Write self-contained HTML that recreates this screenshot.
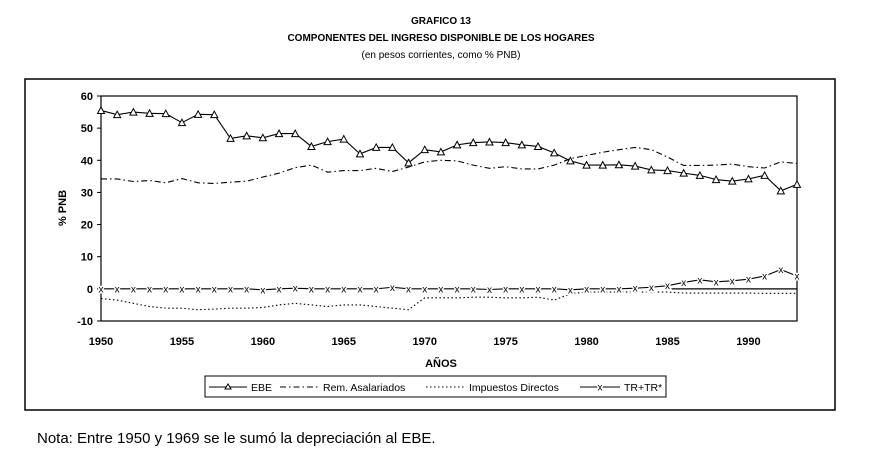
<!DOCTYPE html>
<html><head><meta charset="utf-8"><style>
body{margin:0;background:#fff;font-family:"Liberation Sans",Arial,sans-serif;}
svg text{font-family:"Liberation Sans",Arial,sans-serif;fill:#000;}
</style></head><body>
<svg id="c" width="883" height="456" xmlns="http://www.w3.org/2000/svg">
<text x="441" y="24" text-anchor="middle" font-size="10" font-weight="bold">GRAFICO  13</text>
<text x="441" y="41" text-anchor="middle" font-size="10" font-weight="bold">COMPONENTES DEL INGRESO DISPONIBLE DE LOS HOGARES</text>
<text x="441" y="58" text-anchor="middle" font-size="10">(en pesos corrientes, como % PNB)</text>
<rect x="25" y="79" width="810" height="331" fill="none" stroke="#000" stroke-width="1.5"/>
<rect x="101" y="96" width="696" height="225" fill="none" stroke="#000" stroke-width="1.2"/>
<g id="axes"></g>
<g id="series"></g>
<text x="441" y="367" text-anchor="middle" font-size="11" font-weight="bold">AÑOS</text>
<text transform="translate(66,208) rotate(-90)" text-anchor="middle" font-size="11" font-weight="bold">% PNB</text>
<g>
<rect x="205" y="376" width="461" height="21" fill="none" stroke="#000" stroke-width="1"/>
<g><line x1="209" y1="387" x2="247" y2="387" stroke="#000"/><path d="M225,389 l3,-5 l3,5z" fill="#fff" stroke="#000"/><text x="251" y="391" font-size="10.5">EBE</text></g>
<g><line x1="280" y1="387" x2="318" y2="387" stroke="#000" stroke-dasharray="6,3,1.5,3"/><text x="323" y="391" font-size="10.5">Rem. Asalariados</text></g>
<g><line x1="426" y1="387" x2="464" y2="387" stroke="#000" stroke-dasharray="1.5,2.5"/><text x="469" y="391" font-size="10.5">Impuestos Directos</text></g>
<g><line x1="580" y1="387" x2="620" y2="387" stroke="#000"/><text x="600" y="390.5" text-anchor="middle" font-size="10" style="paint-order:stroke" stroke="#fff" stroke-width="3">x</text><text x="624" y="391" font-size="10.5">TR+TR*</text></g>
</g>
<text x="37" y="443" font-size="15">Nota: Entre 1950 y 1969 se le sumó la depreciación al EBE.</text>
</svg>
<script>
const years=[];for(let y=1950;y<=1993;y++)years.push(y);
const ebe=[55.5,54.2,55,54.6,54.5,51.7,54.3,54.2,46.8,47.6,47,48.3,48.3,44.3,45.8,46.6,42,44,44,39.2,43.3,42.6,44.8,45.5,45.7,45.5,44.8,44.3,42.3,39.8,38.5,38.5,38.6,38.2,37,36.8,36,35.3,34,33.5,34.2,35.3,30.5,32.5];
const rem=[34.2,34.2,33.4,33.7,33,34.3,33,32.8,33.2,33.5,34.8,36,37.7,38.5,36.3,36.8,36.8,37.5,36.5,37.9,39.5,40,39.8,38.5,37.5,38,37.3,37.3,38.5,40.5,41.5,42.5,43.3,44,43.3,41,38.4,38.4,38.5,38.8,38,37.6,39.5,39];
const imp=[-3,-3.5,-4.5,-5.5,-6,-6,-6.5,-6.3,-6,-6,-5.8,-5,-4.5,-5,-5.5,-5,-5,-5.5,-6,-6.5,-2.8,-2.8,-2.8,-2.6,-2.6,-2.8,-2.8,-2.6,-3.5,-1.5,-1,-1,-1,-1,-1,-1,-1.3,-1.3,-1.3,-1.3,-1.3,-1.4,-1.4,-1.4];
const tr=[0,0,0,0,0,0,0,0,0,0,-0.3,0,0.2,0,0,0,0,0,0.5,0,0,0,0,0,-0.2,0,0,0,0,-0.3,0,0,0,0.2,0.5,1,2,2.8,2.2,2.5,3,4,6,4];
const yTicks=[-10,0,10,20,30,40,50,60];
const xTicks=[1950,1955,1960,1965,1970,1975,1980,1985,1990];
const NS='http://www.w3.org/2000/svg';
const X=y=>101+(y-1950)*(696/43);
const Y=v=>321-(v+10)*(225/70);
function mk(t,a,p){const e=document.createElementNS(NS,t);for(const k in a)e.setAttribute(k,a[k]);p.appendChild(e);return e;}
const ax=document.getElementById('axes'),sg=document.getElementById('series');
yTicks.forEach(v=>{mk('line',{x1:97,x2:101,y1:Y(v),y2:Y(v),stroke:'#000'},ax);
const t=mk('text',{x:93,y:Y(v)+4,'text-anchor':'end','font-size':11,'font-weight':'bold'},ax);t.textContent=v;

});
xTicks.forEach(v=>{const t=mk('text',{x:X(v),y:345,'text-anchor':'middle','font-size':11,'font-weight':'bold'},ax);t.textContent=v;

});
mk('line',{x1:X(1985),x2:X(1993),y1:Y(0),y2:Y(0),stroke:'#000','stroke-width':1.2},ax);
function line(d,dash,name){const p=mk('polyline',{points:d.map((v,i)=>X(years[i])+','+Y(v)).join(' '),fill:'none',stroke:'#000','stroke-width':1.1,'stroke-dasharray':dash},sg);

}
line(rem,'6,3,1.5,3','series-rem-asalariados');
line(imp,'1.5,2.5','series-impuestos-directos');
line(tr,'','series-tr');
line(ebe,'','series-ebe');
tr.forEach((v,i)=>{const t=mk('text',{x:X(years[i]),y:Y(v)+3.5,'text-anchor':'middle','font-size':10,stroke:'#fff','stroke-width':3,style:'paint-order:stroke'},sg);t.textContent='x';

});
ebe.forEach((v,i)=>{const x=X(years[i]),y=Y(v);const p=mk('path',{d:`M${x-3.5},${y+3} L${x},${y-3.5} L${x+3.5},${y+3}Z`,fill:'#fff',stroke:'#000','stroke-width':1},sg);

});
</script>
</body></html>
